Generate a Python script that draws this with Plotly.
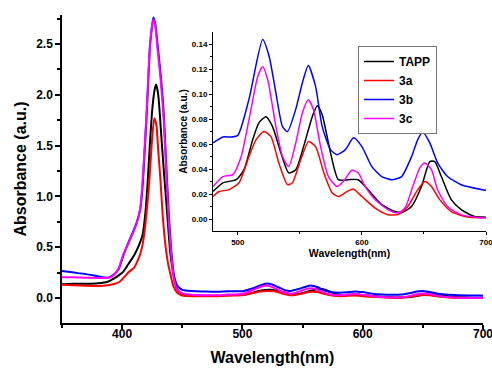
import plotly.graph_objects as go

# ---------------- data ----------------
# Soret region (main plot only), 350-474 nm
soret_wl_tapp = [350, 360, 370, 380, 388, 393, 398, 401, 405, 410, 414, 417, 419, 421, 423, 425, 427, 428.3, 430, 433, 435, 437.2, 440, 443, 446, 450, 458, 466, 474]
soret_tapp = [0.135, 0.14, 0.14, 0.145, 0.16, 0.19, 0.23, 0.26, 0.33, 0.42, 0.52, 0.62, 0.8, 1.1, 1.5, 1.85, 2.05, 2.1, 2.0, 1.52, 1.2, 0.87, 0.45, 0.21, 0.08, 0.04, 0.03, 0.025, 0.022]

soret_wl_3a = [350, 360, 370, 380, 388, 394, 398, 402, 406, 410, 413, 415.5, 417.5, 420, 422.8, 424.5, 426.7, 428.5, 430, 431.7, 433.5, 435.8, 438, 440, 442.5, 446, 450, 458, 466, 474]
soret_3a = [0.13, 0.125, 0.12, 0.118, 0.125, 0.14, 0.16, 0.21, 0.26, 0.3, 0.37, 0.45, 0.56, 0.8, 1.19, 1.5, 1.77, 1.7, 1.45, 1.19, 0.85, 0.54, 0.35, 0.24, 0.12, 0.05, 0.025, 0.018, 0.017, 0.017]

soret_wl_3b = [350, 360, 370, 380, 388, 392, 397, 401, 405, 409, 412, 415, 417, 419, 420.6, 423.3, 426, 427.5, 429.4, 432, 434.4, 436.5, 438.6, 441, 443.3, 446, 450, 458, 466, 474]
soret_3b = [0.265, 0.25, 0.235, 0.215, 0.2, 0.22, 0.28, 0.42, 0.54, 0.65, 0.74, 0.87, 1.1, 1.5, 1.85, 2.5, 2.76, 2.7, 2.5, 2.2, 1.85, 1.35, 0.87, 0.45, 0.21, 0.12, 0.08, 0.068, 0.064, 0.062]

soret_wl_3c = [350, 360, 370, 380, 388, 392, 397, 401, 405, 409, 412, 415, 417, 419, 420.6, 423.3, 426, 427.5, 429.4, 432, 434.4, 436.5, 438.6, 441, 443.3, 446, 450, 458, 466, 474]
soret_3c = [0.205, 0.205, 0.2, 0.198, 0.197, 0.215, 0.29, 0.43, 0.53, 0.64, 0.73, 0.88, 1.15, 1.55, 1.9, 2.52, 2.74, 2.68, 2.45, 2.15, 1.78, 1.28, 0.8, 0.4, 0.17, 0.08, 0.045, 0.032, 0.028, 0.027]

# Q-band region (inset and main plot), 480-700 nm
q_wl_tapp = [480, 488, 498.7, 505, 512, 517, 522.7, 528, 534.7, 541, 546.7, 553, 560, 564, 568, 574.7, 581, 589, 597, 605, 616, 626.7, 632, 640, 648, 654.7, 658.7, 664, 672, 680, 690.7, 697, 700]
q_tapp = [0.022, 0.029, 0.0315, 0.0395, 0.0636, 0.077, 0.082, 0.074, 0.053, 0.037, 0.0395, 0.058, 0.082, 0.0908, 0.0836, 0.053, 0.0315, 0.0315, 0.0315, 0.0235, 0.0115, 0.006, 0.0053, 0.010, 0.026, 0.046, 0.046, 0.034, 0.0155, 0.0075, 0.002, 0.0016, 0.0015]

q_wl_3a = [480, 485, 493, 501, 509, 514.7, 521, 526.7, 533, 540, 544, 550.7, 557, 562.7, 569.3, 576, 581, 588, 593, 600, 610.7, 621, 629, 637, 645, 650.7, 656, 662.7, 672, 685, 697, 700]
q_3a = [0.018, 0.022, 0.0235, 0.029, 0.050, 0.0636, 0.070, 0.066, 0.045, 0.0275, 0.029, 0.0475, 0.062, 0.058, 0.037, 0.021, 0.018, 0.022, 0.024, 0.018, 0.0088, 0.0035, 0.0035, 0.010, 0.0235, 0.030, 0.026, 0.0155, 0.006, 0.0016, 0.001, 0.001]

q_wl_3b = [480, 488, 494.7, 500, 509, 520, 525.3, 530.7, 536, 540, 546.7, 552, 556.8, 562.7, 568, 574.7, 580, 586.7, 593.3, 600, 608, 616, 624, 632, 640, 645, 649, 654.7, 661, 669, 680, 697, 700]
q_3b = [0.061, 0.0657, 0.0657, 0.067, 0.096, 0.1437, 0.13, 0.101, 0.074, 0.070, 0.088, 0.109, 0.123, 0.106, 0.074, 0.0556, 0.0515, 0.0556, 0.065, 0.058, 0.042, 0.034, 0.0315, 0.034, 0.050, 0.0636, 0.0697, 0.061, 0.045, 0.034, 0.0275, 0.0235, 0.023]

q_wl_3c = [480, 488, 496, 502.7, 509, 516, 520, 524, 530.7, 536, 541, 546.7, 552, 556.8, 561, 566.7, 573, 580, 585, 592, 597, 602.7, 610.7, 621, 629, 634.7, 641, 646.7, 650.7, 656, 661, 669, 680, 696, 700]
q_3c = [0.026, 0.034, 0.0355, 0.050, 0.0796, 0.114, 0.122, 0.112, 0.074, 0.050, 0.042, 0.061, 0.085, 0.0956, 0.0876, 0.058, 0.034, 0.026, 0.030, 0.039, 0.037, 0.026, 0.0155, 0.0075, 0.0048, 0.0088, 0.026, 0.041, 0.0449, 0.0395, 0.0235, 0.010, 0.0035, 0.001, 0.001]

names = ["TAPP", "3a", "3b", "3c"]
colors = ["#000000", "#ff0000", "#0000ff", "#ff00ff"]

main_x_ticks = [400, 500, 600, 700]
main_y_ticks = [0.0, 0.5, 1.0, 1.5, 2.0, 2.5]
inset_x_ticks = [500, 600, 700]
inset_y_ticks = [0.00, 0.02, 0.04, 0.06, 0.08, 0.10, 0.12, 0.14]

soret_wl = [soret_wl_tapp, soret_wl_3a, soret_wl_3b, soret_wl_3c]
soret_val = [soret_tapp, soret_3a, soret_3b, soret_3c]
q_wl = [q_wl_tapp, q_wl_3a, q_wl_3b, q_wl_3c]
q_val = [q_tapp, q_3a, q_3b, q_3c]

# ---------------- figure ----------------
FONT = "Liberation Sans, Arial, Helvetica, sans-serif"
fig = go.Figure()

for i in [0, 1, 2, 3]:
    fig.add_trace(go.Scatter(
        x=soret_wl[i] + q_wl[i], y=soret_val[i] + q_val[i],
        mode="lines", line=dict(color=colors[i], width=2, shape="spline", smoothing=0.6),
        showlegend=False, xaxis="x", yaxis="y", hoverinfo="skip"))

for i in [0, 1, 2, 3]:
    fig.add_trace(go.Scatter(
        x=q_wl[i], y=q_val[i], name=names[i],
        mode="lines", line=dict(color=colors[i], width=1.5, shape="spline", smoothing=0.6),
        showlegend=True, xaxis="x2", yaxis="y2"))

W, H = 492, 379
ml, mr, mt, mb = 62, 6, 15, 56
pw = W - ml - mr
ph = H - mt - mb

def px_x(p):
    return (p - ml) / pw

def px_y(p):
    return (H - mb - p) / ph

axis_common = dict(showline=True, linecolor="black", mirror=False, showgrid=False,
                   zeroline=False, ticks="outside", tickcolor="black",
                   automargin=False, ticklabeloverflow="allow")

fig.update_layout(
    template="none",
    width=W, height=H,
    margin=dict(l=ml, r=mr, t=mt, b=mb, pad=0),
    paper_bgcolor="white", plot_bgcolor="white",
    font=dict(family=FONT, color="black"),
    xaxis=dict(**axis_common, domain=[0, px_x(483)], range=[350, 700],
               tickvals=main_x_ticks, ticklen=4, tickwidth=1.5, linewidth=1.5,
               ticklabelstandoff=-5,
               minor=dict(ticks="outside", dtick=50, tick0=0, ticklen=3, tickcolor="black", tickwidth=1.5),
               tickfont=dict(size=12, family=FONT, weight="bold"),
               title=dict(text="Wavelength(nm)", font=dict(size=16, family=FONT, weight="bold"), standoff=12)),
    yaxis=dict(**axis_common, domain=[0, 1], range=[-0.246, 2.785],
               tickvals=main_y_ticks, ticktext=["0.0", "0.5", "1.0", "1.5", "2.0", "2.5"],
               ticklen=5, tickwidth=1.5, linewidth=1.5,
               minor=dict(ticks="outside", dtick=0.25, tick0=0, ticklen=3, tickcolor="black", tickwidth=1.5),
               tickfont=dict(size=12, family=FONT, weight="bold"),
               title=dict(text="Absorbance (a.u.)", font=dict(size=16, family=FONT, weight="bold"), standoff=6)),
    xaxis2=dict(**axis_common, domain=[px_x(213), 1.0], range=[480, 700], anchor="y2",
                tickvals=inset_x_ticks, ticklen=3, tickwidth=1, linewidth=1,
                minor=dict(ticks="outside", dtick=50, tick0=0, ticklen=2, tickcolor="black"),
                tickfont=dict(size=8, family=FONT, weight="bold"),
                title=dict(text="Wavelength(nm)", font=dict(size=10.5, family=FONT, weight="bold"), standoff=2)),
    yaxis2=dict(**axis_common, domain=[px_y(231), px_y(32)], range=[-0.0096, 0.1498], anchor="x2",
                tickvals=inset_y_ticks, tickformat=".2f", ticklen=3, tickwidth=1, linewidth=1,
                minor=dict(ticks="outside", dtick=0.01, tick0=0, ticklen=2, tickcolor="black"),
                tickfont=dict(size=8, family=FONT, weight="bold"),
                title=dict(text="Absorbance (a.u.)", font=dict(size=10, family=FONT, weight="bold"), standoff=2)),
    legend=dict(x=px_x(358), y=px_y(46), xanchor="left", yanchor="top",
                bgcolor="white", bordercolor="#777777", borderwidth=1,
                font=dict(size=12, family=FONT, weight="bold"),
                tracegroupgap=0, itemwidth=30),
)

fig.write_html("out.html",
               config={"displayModeBar": False},
               post_script="document.body.style.margin='0';document.body.style.overflow='hidden';")
